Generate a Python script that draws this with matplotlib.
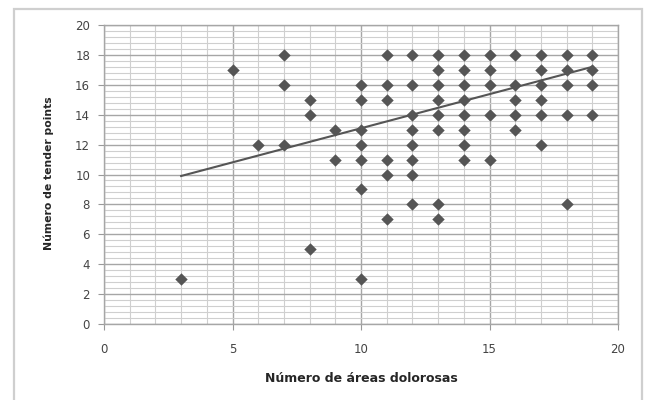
import numpy as np
import matplotlib
matplotlib.use("Agg")
import matplotlib.pyplot as plt
from matplotlib.patches import Rectangle

# number of painful areas -> number of tender points, one list per column
areas = [3, 5, 6, 7, 8, 9, 10, 11, 12, 13, 14, 15, 16, 17, 18, 19]
points = [
    [3],
    [17],
    [12],
    [18, 16, 12],
    [15, 14, 5],
    [13, 11],
    [16, 15, 13, 12, 11, 9, 3],
    [18, 16, 15, 11, 10, 7],
    [18, 16, 14, 13, 12, 11, 10, 8],
    [18, 17, 16, 15, 14, 13, 8, 7],
    [18, 17, 16, 15, 14, 13, 12, 11],
    [18, 17, 16, 14, 11],
    [18, 16, 15, 14, 13],
    [18, 17, 16, 15, 14, 12],
    [18, 17, 16, 14, 8],
    [18, 17, 16, 14],
]
trend_x = [3, 19]
trend_y = [9.9, 17.2]

x = np.array([a for a, col in zip(areas, points) for _ in col], dtype=float)
y = np.array([v for col in points for v in col], dtype=float)

plt.rcParams['font.family'] = ['DejaVu Sans']

fig = plt.figure(figsize=(6.45, 4.0), dpi=100)
fig.patches.append(Rectangle((14 / 645, -0.05), (642 - 14) / 645, 1.05 - 9 / 400,
                             transform=fig.transFigure, fill=False,
                             edgecolor='#cfcfcf', linewidth=1.6))
ax = fig.add_axes([104 / 645, 1 - 324 / 400, (618 - 104) / 645, (324 - 25) / 400])

ax.set_xlim(0, 20)
ax.set_ylim(0, 20)
ax.set_xticks(np.arange(0, 21, 5))
ax.set_yticks(np.arange(0, 21, 2))
ax.set_xticks(np.arange(0, 21, 1), minor=True)
ax.set_yticks(np.arange(0, 20.01, 0.4), minor=True)
ax.grid(which='minor', color='#cfcfcf', linewidth=0.8)
ax.grid(which='major', color='#a6a6a6', linewidth=1.0)
ax.set_axisbelow(True)
ax.tick_params(which='minor', length=0)
ax.tick_params(which='major', length=4, width=0.8, color='#999999',
               labelsize=8.5, labelcolor='#444444')
ax.tick_params(axis='x', pad=10)
ax.tick_params(axis='y', pad=6)
for s in ax.spines.values():
    s.set_color('#a6a6a6')
    s.set_linewidth(1.0)

ax.scatter(x, y, marker='D', s=40, color='#555555', zorder=3, linewidths=0)
ax.plot(trend_x, trend_y, color='#555555', linewidth=1.5, zorder=4)

ax.set_xlabel('Número de áreas dolorosas', fontsize=9, fontweight='bold',
              color='#262626', va='center')
ax.set_ylabel('Número de tender points', fontsize=7.8, fontweight='bold',
              color='#262626', va='center', ha='center')
ax.xaxis.set_label_coords(0.5, (324 - 379) / 299)
ax.yaxis.set_label_coords((49 - 104) / 514, (324 - 173) / 299)

fig.savefig('out.png', dpi=100)
